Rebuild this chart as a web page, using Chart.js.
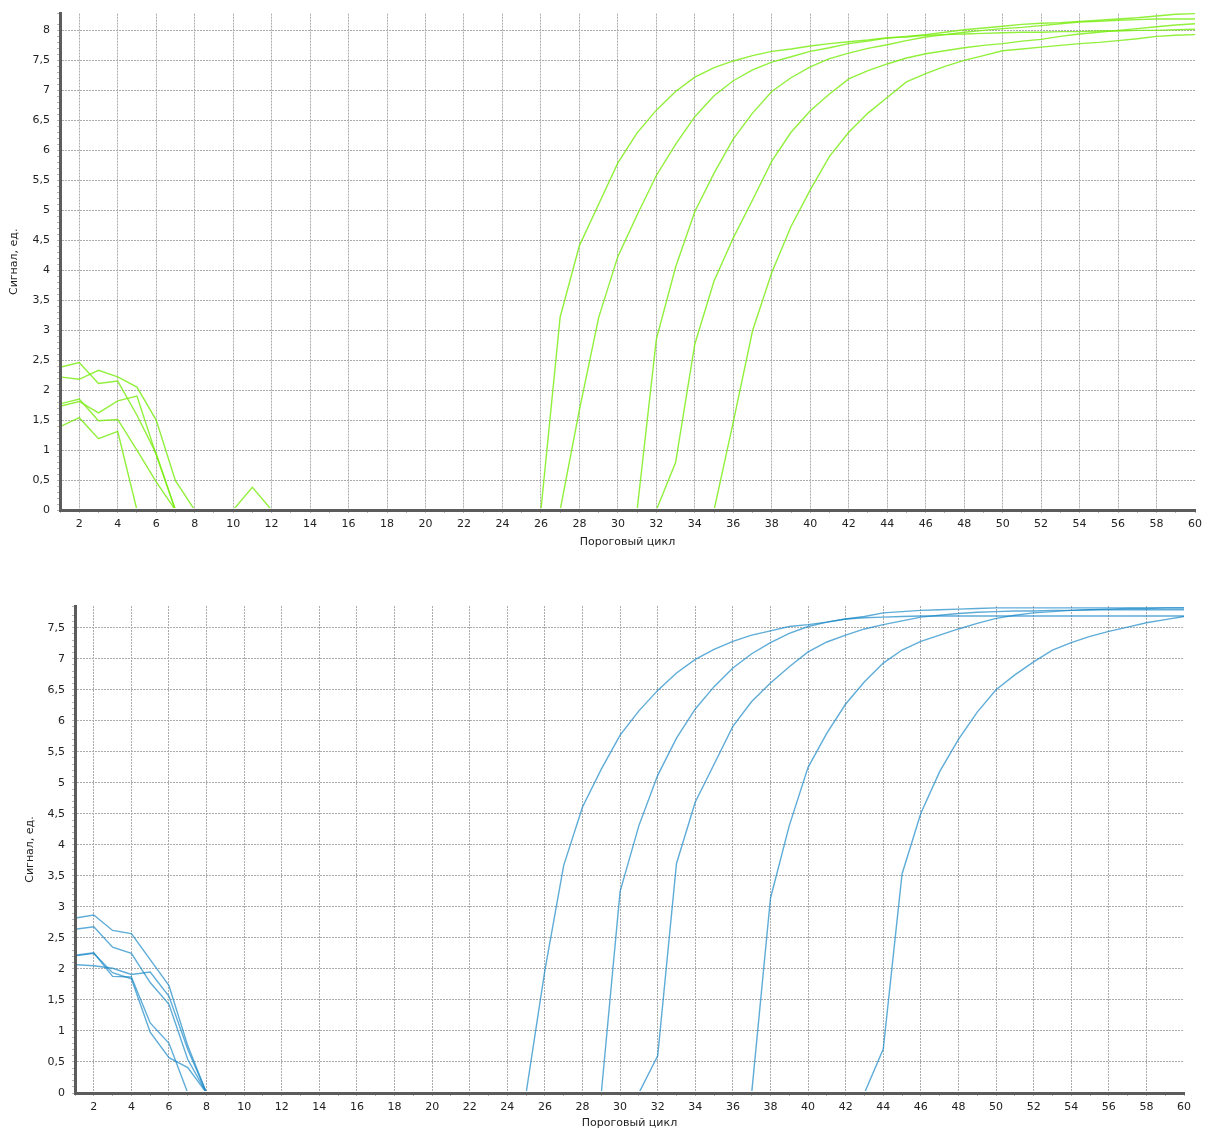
<!DOCTYPE html>
<html lang="ru">
<head>
<meta charset="utf-8">
<title>Сигнал по циклам</title>
<script src="https://cdn.jsdelivr.net/npm/chart.js@4.4.1/dist/chart.umd.min.js"></script>
<style>
  html, body { margin: 0; padding: 0; background: #ffffff; }
  body { width: 1210px; height: 1130px; position: relative; overflow: hidden; }
  .panel { position: absolute; left: 0; width: 1210px; }
  #topPanel { top: 0; height: 549px; }
  #bottomPanel { top: 590px; height: 540px; }
</style>
</head>
<body>
<div class="panel" id="topPanel"><canvas id="topChart"></canvas></div>
<div class="panel" id="bottomPanel"><canvas id="bottomChart"></canvas></div>
<script>
// cycle numbers on the x axis (1..60)
const cycles = Array.from({ length: 60 }, (_, i) => i + 1);

// upper plot, green curves
const topCurve1 = [
  2.22, 2.18, 2.33, 2.22, 2.05, 1.50, 0.49, 0, 0, 0,
  0.38, 0, 0, 0, 0, 0, 0, 0, 0, 0,
  0, 0, 0, 0, 0, 0, 3.22, 4.41, 5.10, 5.79,
  6.29, 6.67, 6.98, 7.22, 7.38, 7.49, 7.58, 7.65, 7.69, 7.74,
  7.78, 7.81, 7.84, 7.88, 7.89, 7.92, 7.93, 7.94, 7.95, 7.96,
  7.97, 7.97, 7.98, 7.98, 7.99, 7.99, 8.00, 8.00, 8.01, 8.02
];
const topCurve2 = [
  2.38, 2.46, 2.11, 2.15, 1.58, 0.94, 0, 0, 0, 0,
  0, 0, 0, 0, 0, 0, 0, 0, 0, 0,
  0, 0, 0, 0, 0, 0, 0, 1.67, 3.21, 4.23,
  4.92, 5.58, 6.10, 6.56, 6.91, 7.16, 7.34, 7.47, 7.56, 7.65,
  7.71, 7.78, 7.82, 7.87, 7.90, 7.93, 7.97, 8.01, 8.04, 8.07,
  8.10, 8.12, 8.13, 8.15, 8.17, 8.19, 8.21, 8.24, 8.27, 8.28
];
const topCurve3 = [
  1.77, 1.85, 1.49, 1.51, 1.00, 0.47, 0, 0, 0, 0,
  0, 0, 0, 0, 0, 0, 0, 0, 0, 0,
  0, 0, 0, 0, 0, 0, 0, 0, 0, 0,
  0, 2.85, 4.05, 4.98, 5.62, 6.19, 6.62, 6.98, 7.21, 7.39,
  7.53, 7.62, 7.70, 7.76, 7.83, 7.89, 7.93, 7.97, 8.00, 8.03,
  8.05, 8.08, 8.11, 8.14, 8.15, 8.17, 8.18, 8.19, 8.19, 8.19
];
const topCurve4 = [
  1.73, 1.81, 1.62, 1.82, 1.90, 0.92, 0, 0, 0, 0,
  0, 0, 0, 0, 0, 0, 0, 0, 0, 0,
  0, 0, 0, 0, 0, 0, 0, 0, 0, 0,
  0, 0, 0.79, 2.77, 3.82, 4.54, 5.17, 5.82, 6.30, 6.66,
  6.94, 7.19, 7.33, 7.44, 7.54, 7.61, 7.66, 7.71, 7.75, 7.78,
  7.82, 7.85, 7.90, 7.94, 7.97, 8.00, 8.03, 8.06, 8.09, 8.11
];
const topCurve5 = [
  1.39, 1.54, 1.19, 1.31, 0, 0, 0, 0, 0, 0,
  0, 0, 0, 0, 0, 0, 0, 0, 0, 0,
  0, 0, 0, 0, 0, 0, 0, 0, 0, 0,
  0, 0, 0, 0, 0, 1.47, 2.99, 3.96, 4.73, 5.34,
  5.90, 6.30, 6.62, 6.88, 7.14, 7.28, 7.40, 7.50, 7.58, 7.66,
  7.69, 7.72, 7.75, 7.78, 7.80, 7.83, 7.86, 7.90, 7.92, 7.93
];

// lower plot, blue curves
const bottomCurve1 = [
  2.82, 2.87, 2.62, 2.57, 2.15, 1.73, 0.76, 0, 0, 0,
  0, 0, 0, 0, 0, 0, 0, 0, 0, 0,
  0, 0, 0, 0, 0, 1.98, 3.67, 4.61, 5.22, 5.77,
  6.16, 6.49, 6.77, 6.99, 7.15, 7.28, 7.38, 7.45, 7.52, 7.55,
  7.59, 7.64, 7.68, 7.74, 7.76, 7.78, 7.79, 7.80, 7.81, 7.82,
  7.82, 7.82, 7.82, 7.82, 7.82, 7.82, 7.82, 7.82, 7.82, 7.82
];
const bottomCurve2 = [
  2.64, 2.68, 2.35, 2.25, 1.78, 1.43, 0.54, 0, 0, 0,
  0, 0, 0, 0, 0, 0, 0, 0, 0, 0,
  0, 0, 0, 0, 0, 0, 0, 0, 0, 3.25,
  4.31, 5.12, 5.72, 6.19, 6.55, 6.85, 7.08, 7.26, 7.41, 7.52,
  7.59, 7.64, 7.66, 7.67, 7.68, 7.69, 7.69, 7.69, 7.69, 7.69,
  7.69, 7.69, 7.69, 7.69, 7.69, 7.69, 7.69, 7.69, 7.69, 7.69
];
const bottomCurve3 = [
  2.22, 2.26, 1.88, 1.87, 1.13, 0.80, 0, 0, 0, 0,
  0, 0, 0, 0, 0, 0, 0, 0, 0, 0,
  0, 0, 0, 0, 0, 0, 0, 0, 0, 0,
  0, 0.60, 3.70, 4.69, 5.30, 5.91, 6.31, 6.61, 6.87, 7.11,
  7.27, 7.38, 7.48, 7.55, 7.61, 7.67, 7.70, 7.73, 7.75, 7.76,
  7.77, 7.77, 7.78, 7.78, 7.79, 7.79, 7.79, 7.79, 7.79, 7.79
];
const bottomCurve4 = [
  2.21, 2.25, 1.94, 1.84, 0.98, 0.57, 0.41, 0, 0, 0,
  0, 0, 0, 0, 0, 0, 0, 0, 0, 0,
  0, 0, 0, 0, 0, 0, 0, 0, 0, 0,
  0, 0, 0, 0, 0, 0, 0, 3.14, 4.31, 5.25,
  5.80, 6.27, 6.63, 6.93, 7.14, 7.28, 7.38, 7.48, 7.57, 7.65,
  7.70, 7.74, 7.76, 7.78, 7.79, 7.80, 7.81, 7.81, 7.82, 7.82
];
const bottomCurve5 = [
  2.07, 2.05, 2.01, 1.91, 1.95, 1.56, 0.70, 0, 0, 0,
  0, 0, 0, 0, 0, 0, 0, 0, 0, 0,
  0, 0, 0, 0, 0, 0, 0, 0, 0, 0,
  0, 0, 0, 0, 0, 0, 0, 0, 0, 0,
  0, 0, 0, 0.71, 3.53, 4.51, 5.18, 5.70, 6.14, 6.50,
  6.74, 6.95, 7.14, 7.26, 7.36, 7.44, 7.51, 7.58, 7.63, 7.68
];

const palette = {
  green: "rgba(118, 236, 10, 0.8)",
  blue: "rgba(18, 132, 198, 0.68)",
  text: "#222222",
  grid: "#ababab",
  tick: "#b4b4b4",
  axis: "#5c5c5c"
};

const font = { family: "'DejaVu Sans', Verdana, sans-serif", size: 11 };

const isHalfStep = (v) => Math.abs(v * 2 - Math.round(v * 2)) < 1e-6;
const formatTick = (v) => String(Math.round(v * 10) / 10).replace(".", ",");

const buildChart = (canvas, curves, cfg) => {
  return new Chart(canvas, {
    type: "line",
    data: {
      labels: cycles,
      datasets: curves.map((values) => ({
        data: values,
        borderColor: cfg.color,
        borderWidth: 1.4,
        pointRadius: 0,
        tension: 0,
        fill: false,
        clip: { left: -2, top: 2, right: 0, bottom: -2 }
      }))
    },
    options: {
      responsive: true,
      maintainAspectRatio: false,
      animation: false,
      layout: { padding: cfg.padding },
      plugins: {
        legend: { display: false },
        tooltip: { enabled: false }
      },
      scales: {
        x: {
          type: "category",
          offset: false,
          afterFit: (scale) => { scale.height = cfg.xHeight; },
          ticks: {
            autoSkip: false,
            maxRotation: 0,
            padding: 5,
            color: palette.text,
            font,
            callback: (value, index) => (cycles[index] % 2 === 0 ? String(cycles[index]) : "")
          },
          grid: {
            color: (ctx) => {
              const c = cycles[ctx.index];
              return c % 2 === 0 && c < 60 ? palette.grid : "rgba(0,0,0,0)";
            },
            lineWidth: 1,
            tickColor: palette.tick,
            tickWidth: 1,
            tickLength: 3
          },
          border: { color: palette.axis, width: 3, dash: [2, 1] },
          title: {
            display: true,
            text: "Пороговый цикл",
            color: palette.text,
            font,
            padding: { top: 0, bottom: 0 }
          }
        },
        y: {
          type: "linear",
          min: 0,
          max: cfg.yMax,
          afterFit: (scale) => { scale.width = cfg.yWidth; },
          ticks: {
            stepSize: 0.1,
            autoSkip: false,
            padding: 7,
            color: palette.text,
            font,
            callback: (value) => (isHalfStep(value) ? formatTick(value) : "")
          },
          grid: {
            color: (ctx) => (ctx.tick && isHalfStep(ctx.tick.value) ? palette.grid : "rgba(0,0,0,0)"),
            lineWidth: 1,
            tickColor: palette.tick,
            tickWidth: 1,
            tickLength: 3
          },
          border: { color: palette.axis, width: 3, dash: [2, 1] },
          title: {
            display: true,
            text: "Сигнал, ед.",
            color: palette.text,
            font,
            padding: { top: cfg.yTitlePad, bottom: 0 }
          }
        }
      }
    }
  });
};

buildChart(
  document.getElementById("topChart"),
  [topCurve1, topCurve2, topCurve3, topCurve4, topCurve5],
  {
    color: palette.green,
    yMax: 8.28,
    yWidth: 60,
    xHeight: 39,
    yTitlePad: 8,
    padding: { left: 0, right: 15, top: 11, bottom: 0 }
  }
);

buildChart(
  document.getElementById("bottomChart"),
  [bottomCurve1, bottomCurve2, bottomCurve3, bottomCurve4, bottomCurve5],
  {
    color: palette.blue,
    yMax: 7.85,
    yWidth: 75,
    xHeight: 37,
    yTitlePad: 24,
    padding: { left: 0, right: 26, top: 16, bottom: 0 }
  }
);
</script>
</body>
</html>
